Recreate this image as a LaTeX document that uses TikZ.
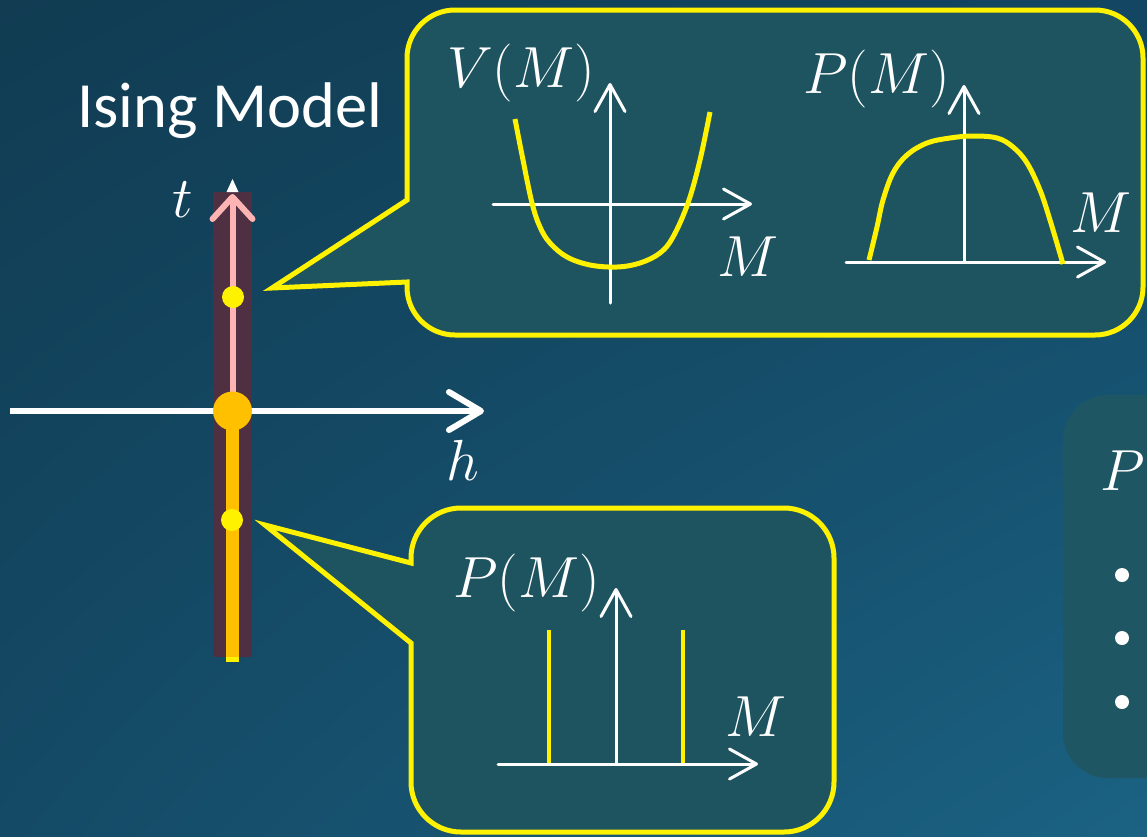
\RequirePackage{fix-cm}
\documentclass[tikz,border=0pt]{standalone}
\usepackage{fontspec}
\newfontfamily\isingfont{Carlito}
\usetikzlibrary{arrows.meta,shadings}
\definecolor{bgUL}{RGB}{17,60,82}
\definecolor{bgUR}{RGB}{18,70,98}
\definecolor{bgLL}{RGB}{20,74,102}
\definecolor{bgLR}{RGB}{27,98,131}
\definecolor{boxfill}{RGB}{30,83,96}
\definecolor{rboxfill}{RGB}{31,86,99}
\definecolor{barmaroon}{RGB}{78,48,66}
\definecolor{pinkline}{RGB}{255,180,180}
\definecolor{orangeline}{RGB}{255,192,0}
\begin{document}
\begin{tikzpicture}[x=1pt,y=-1pt,
  axisthin/.style={draw=white, line width=3pt, line cap=round, -{Straight Barb[length=27pt,width=30pt,round]}},
  axisthick/.style={draw=white, line width=6pt, -{Straight Barb[length=32pt,width=38pt,round]}},
  curve/.style={draw=yellow, line width=5pt},
  spike/.style={draw=yellow, line width=4.5pt},
  callout/.style={draw=yellow, line width=5pt, fill=boxfill, line join=miter},
  lbl/.style={text=white, inner sep=0pt, anchor=base west, font=\fontsize{58}{60}\selectfont},
  dotY/.style={circle, fill=yellow, inner sep=0pt, minimum size=22pt},
]
\useasboundingbox (0,0) rectangle (1147,836);
\clip (0,0) rectangle (1147,836);
\shade[upper left=bgUL, upper right=bgUR, lower left=bgLL, lower right=bgLR] (0,0) rectangle (1147,836);

% right partial box
\fill[rboxfill, rounded corners=45pt] (1063,395) rectangle (1230,778);
\node[lbl] (rp) at (1100,490) {$P$};
\foreach \yy/\nm in {575/b1,638/b2,702/b3}
  \node[circle, fill=white, inner sep=0pt, minimum size=14pt] (\nm) at (1122,\yy) {};

% Ising model title
\node[text=white, inner sep=0pt, anchor=base west, font=\isingfont\fontsize{64.5}{70}\selectfont] (title) at (77,127) {Ising Model};

% phase diagram
\fill[barmaroon] (213,192) rectangle (252,657);
\coordinate (hL) at (10,411);
\coordinate (hR) at (484,411);
\draw[axisthick] (hL) -- (hR);
\node[lbl] (hlab) at (446,480) {$h$};
\node[lbl] (tlab) at (172,217) {$t$};

\coordinate (origin) at (232.5,411);
\coordinate (ttop) at (232.5,194);
\coordinate (tbot) at (232.5,657);
\coordinate (tend) at (232.5,662);
\draw[pinkline, line width=6pt, -{Straight Barb[length=22pt,width=40pt,round]}] (origin) -- (ttop);
\fill[white] (232.5,179) -- (226.5,192) -- (238.5,192) -- cycle;
\draw[orangeline, line width=13pt] (origin) -- (tbot);
\draw[yellow, line width=13pt] (tbot) -- (tend);
\node[circle, fill=orangeline, inner sep=0pt, minimum size=39pt] (crit) at (origin) {};
\node[dotY] (dotup) at (233,297) {};
\node[dotY] (dotdown) at (232,520) {};

% upper callout
\path[callout] (407,282) -- (407,287) .. controls (407,313.5) and (428.5,335) .. (455,335)
  -- (1095,335) .. controls (1121.5,335) and (1143,313.5) .. (1143,287)
  -- (1143,58) .. controls (1143,31.5) and (1121.5,10) .. (1095,10)
  -- (455,10) .. controls (428.5,10) and (407,31.5) .. (407,58)
  -- (407,200) -- (272,288) -- cycle;

% V(M) graph
\coordinate (vxL) at (493,204);
\coordinate (vxR) at (752,204);
\coordinate (vyB) at (610,303);
\coordinate (vyT) at (610,83);
\draw[axisthin] (vxL) -- (vxR);
\draw[axisthin] (vyB) -- (vyT);
\draw[curve] plot[smooth, tension=0.6] coordinates {(515,119) (523,160) (532,203) (540,227) (550,243) (567,257) (590,265) (617,267) (640,263) (660,253) (673,237) (688,203) (700,160) (710,112)};
\node[lbl] (vlab) at (447,87) {$V(M)$};
\node[lbl] (vm) at (717,276) {$M$};

% P(M) graph (upper)
\coordinate (pxL) at (846,262);
\coordinate (pxR) at (1106,262);
\coordinate (pyB) at (964,262);
\coordinate (pyT) at (964,85);
\draw[axisthin] (pxL) -- (pxR);
\draw[axisthin] (pyB) -- (pyT);
\draw[curve] plot[smooth, tension=0.6] coordinates {(869,260) (877,227) (883,200) (893,173) (907,155) (927,143) (950,138) (973,136) (997,138) (1013,147) (1027,163) (1040,190) (1050,220) (1063,264)};
\node[lbl] (plab) at (803,93) {$P(M)$};
\node[lbl] (pm) at (1070,232) {$M$};

% lower callout
\path[callout] (411,643) -- (411,782) .. controls (411,809.6) and (433.4,832) .. (461,832)
  -- (784,832) .. controls (811.6,832) and (834,809.6) .. (834,782)
  -- (834,558) .. controls (834,530.4) and (811.6,508) .. (784,508)
  -- (461,508) .. controls (433.4,508) and (411,530.4) .. (411,558)
  -- (411,563) -- (265,525) -- cycle;

\coordinate (lxL) at (498,764);
\coordinate (lxR) at (758,764);
\coordinate (lyB) at (616,764);
\coordinate (lyT) at (616,588);
\coordinate (s1t) at (549,630);
\coordinate (s1b) at (549,764);
\coordinate (s2t) at (683,630);
\coordinate (s2b) at (683,764);
\draw[spike] (s1t) -- (s1b);
\draw[spike] (s2t) -- (s2b);
\draw[axisthin] (lxL) -- (lxR);
\draw[axisthin] (lyB) -- (lyT);
\node[lbl] (lplab) at (453,597) {$P(M)$};
\node[lbl] (lm) at (725,736) {$M$};
\end{tikzpicture}
\end{document}
